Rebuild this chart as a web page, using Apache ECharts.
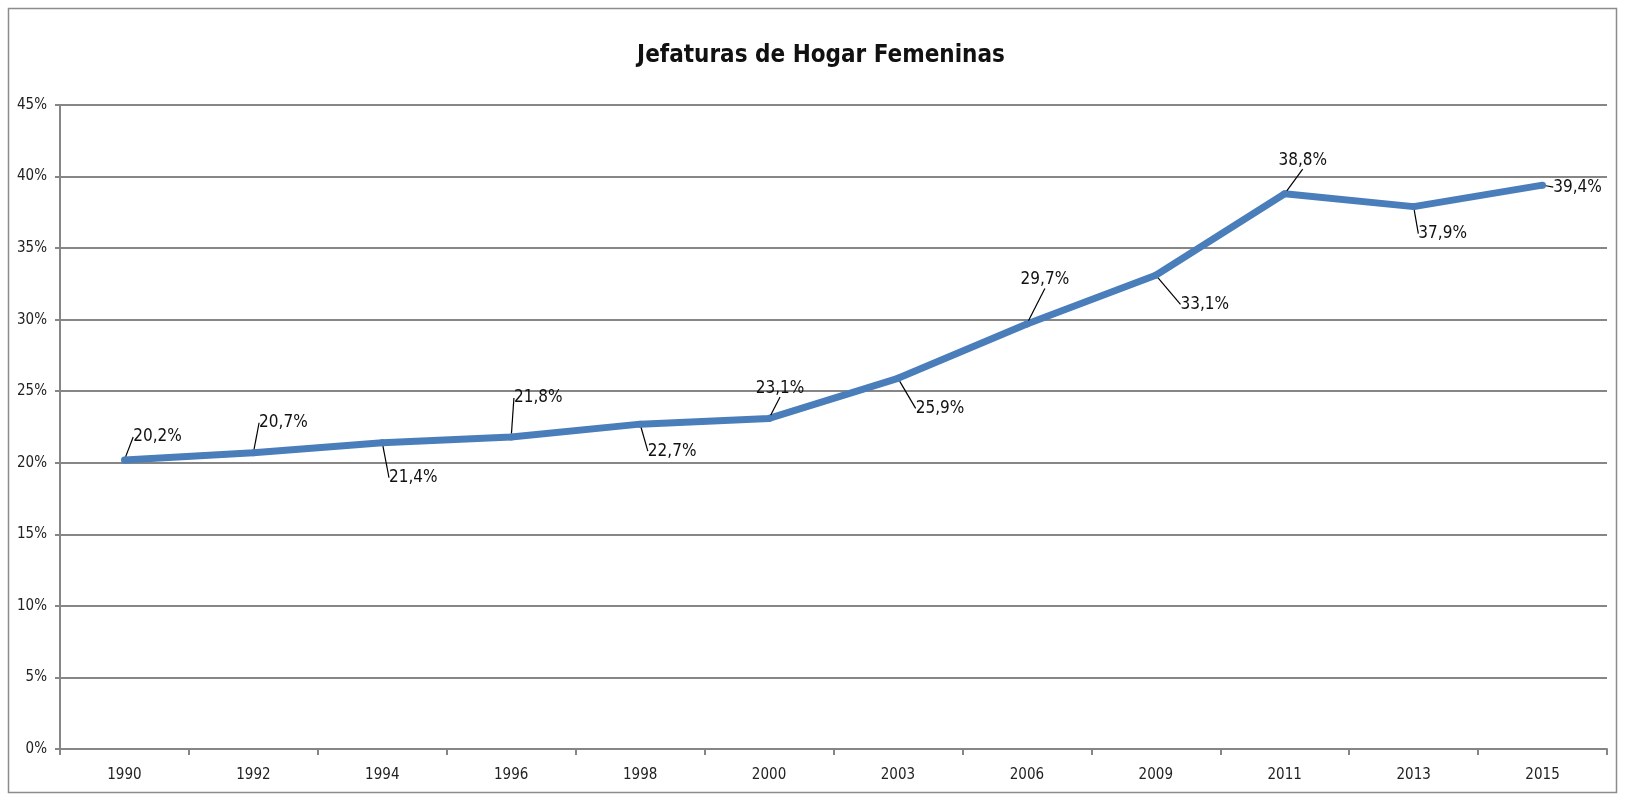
<!DOCTYPE html>
<html>
<head>
    <meta charset="utf-8">
    <title>Jefaturas de Hogar Femeninas</title>
    <script src="https://cdn.jsdelivr.net/npm/echarts@6/dist/echarts.min.js"></script>
    <style>
        html, body { margin: 0; padding: 0; width: 100%; height: 100%; background: #fff; }
    </style>
</head>
<body>
    <div id="main" style="width: 1625px;height:799px;"></div>
    <script type="text/javascript">
// datos del grafico
var years = ['1990', '1992', '1994', '1996', '1998', '2000', '2003', '2006', '2009', '2011', '2013', '2015'];
var values = [20.2, 20.7, 21.4, 21.8, 22.7, 23.1, 25.9, 29.7, 33.1, 38.8, 37.9, 39.4];
var yTicks = [0, 5, 10, 15, 20, 25, 30, 35, 40, 45];

// desplazamiento de cada etiqueta respecto a su punto (px)
var labelOffsets = [
    [33, -23], [30, -30], [31, 35], [27, -39], [32, 27], [11, -30],
    [42, 30], [18, -44], [49, 29], [18, -33], [29, 27], [35, 2]
];

var font = "'DejaVu Sans Condensed', 'Roboto', sans-serif";
var myChart = echarts.init(document.getElementById('main'));

myChart.setOption({
    backgroundColor: '#fff',
    animation: false,
    title: {
        text: 'Jefaturas de Hogar Femeninas',
        left: 816,
        textAlign: 'center',
        top: 39,
        textStyle: { fontFamily: font, fontSize: 24, fontWeight: 'bold', color: '#111' }
    },
    graphic: [{
        type: 'rect',
        shape: { x: 8.5, y: 8.5, width: 1608, height: 784 },
        style: { fill: null, stroke: '#8c8c8c', lineWidth: 1.5 },
        silent: true
    }],
    grid: { left: 60, right: 18, top: 105, bottom: 50 },
    xAxis: {
        type: 'category',
        data: years,
        boundaryGap: true,
        axisLine: { lineStyle: { color: '#868686', width: 2 } },
        axisTick: { show: true, length: 6, lineStyle: { color: '#868686', width: 2 } },
        axisLabel: { margin: 19, fontFamily: font, fontSize: 15, color: '#222' }
    },
    yAxis: {
        type: 'value',
        min: yTicks[0],
        max: yTicks[yTicks.length - 1],
        interval: 5,
        axisLine: { show: true, lineStyle: { color: '#868686', width: 2 } },
        axisTick: { show: true, length: 5, lineStyle: { color: '#868686', width: 2 } },
        axisLabel: { margin: 13, fontFamily: font, fontSize: 15, color: '#222', formatter: '{value}%' },
        splitLine: { lineStyle: { color: '#868686', width: 2 } }
    },
    series: [{
        type: 'line',
        data: values,
        symbol: 'circle',
        symbolSize: 7,
        itemStyle: { color: '#4a7ebb' },
        lineStyle: { color: '#4a7ebb', width: 7 },
        label: {
            show: true,
            position: 'top',
            fontFamily: font,
            fontSize: 17,
            color: '#111',
            formatter: function (p) {
                return p.value.toFixed(1).replace('.', ',') + '%';
            }
        },
        labelLine: {
            show: true,
            lineStyle: { color: '#000', width: 1.2 }
        },
        labelLayout: function (params) {
            var off = labelOffsets[params.dataIndex];
            var r = params.rect;
            return {
                x: r.x + r.width / 2 + off[0],
                y: r.y + r.height / 2 + off[1],
                align: 'center',
                verticalAlign: 'middle'
            };
        }
    }]
});
</script>
</body>
</html>
